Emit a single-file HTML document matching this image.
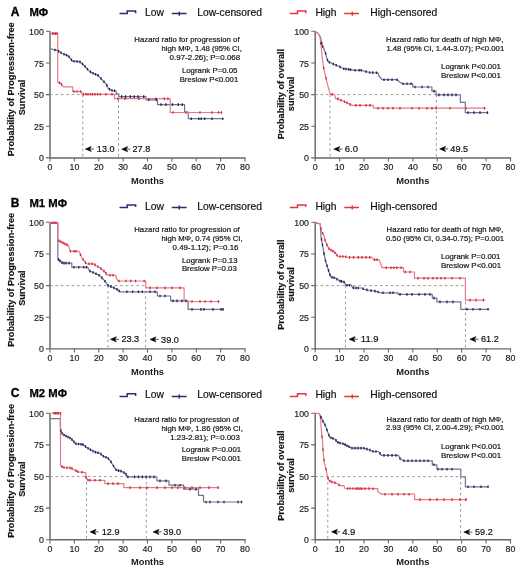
<!DOCTYPE html><html><head><meta charset="utf-8"><style>html,body{margin:0;padding:0;background:#fff;overflow:hidden;width:520px;height:571px;}svg{display:block;filter:blur(0.35px);}text{font-family:"Liberation Sans",sans-serif;}</style></head><body>
<svg width="520" height="571" viewBox="0 0 520 571">
<rect width="520" height="571" fill="#fff"/>
<text x="10.8" y="15.9" font-size="12" font-weight="bold" text-anchor="start" fill="#000" stroke="#000" stroke-width="0.35">A</text>
<text x="29.4" y="15.9" font-size="11.3" font-weight="bold" text-anchor="start" fill="#000" stroke="#000" stroke-width="0.25">MΦ</text>
<path d="M119.5 13.6 H127.2 V11.0 H135.6 V13.2" stroke="#2c2e70" stroke-width="1.5" fill="none"/>
<text x="145.0" y="15.6" font-size="10.3" font-weight="normal" text-anchor="start" fill="#111" stroke="#111" stroke-width="0.2">Low</text>
<path d="M171.8 13.6 H186.6 M179.3 11.7 V15.7" stroke="#2c2e70" stroke-width="1.5" fill="none"/>
<text x="197.2" y="15.6" font-size="10.3" font-weight="normal" text-anchor="start" fill="#111" stroke="#111" stroke-width="0.2">Low-censored</text>
<path d="M289.8 13.6 H297.5 V11.0 H305.8 V13.2" stroke="#e8343c" stroke-width="1.5" fill="none"/>
<text x="315.4" y="15.6" font-size="10.3" font-weight="normal" text-anchor="start" fill="#111" stroke="#111" stroke-width="0.2">High</text>
<path d="M344.2 13.6 H359 M352.3 11.7 V15.7" stroke="#e8343c" stroke-width="1.5" fill="none"/>
<text x="370.3" y="15.6" font-size="10.3" font-weight="normal" text-anchor="start" fill="#111" stroke="#111" stroke-width="0.2">High-censored</text>
<text x="10.8" y="206.9" font-size="12" font-weight="bold" text-anchor="start" fill="#000" stroke="#000" stroke-width="0.35">B</text>
<text x="29.4" y="206.9" font-size="11.3" font-weight="bold" text-anchor="start" fill="#000" stroke="#000" stroke-width="0.25">M1 MΦ</text>
<path d="M119.5 207.5 H127.2 V204.9 H135.6 V207.1" stroke="#2c2e70" stroke-width="1.5" fill="none"/>
<text x="145.0" y="209.5" font-size="10.3" font-weight="normal" text-anchor="start" fill="#111" stroke="#111" stroke-width="0.2">Low</text>
<path d="M171.8 207.5 H186.6 M179.3 205.6 V209.6" stroke="#2c2e70" stroke-width="1.5" fill="none"/>
<text x="197.2" y="209.5" font-size="10.3" font-weight="normal" text-anchor="start" fill="#111" stroke="#111" stroke-width="0.2">Low-censored</text>
<path d="M289.8 207.5 H297.5 V204.9 H305.8 V207.1" stroke="#e8343c" stroke-width="1.5" fill="none"/>
<text x="315.4" y="209.5" font-size="10.3" font-weight="normal" text-anchor="start" fill="#111" stroke="#111" stroke-width="0.2">High</text>
<path d="M344.2 207.5 H359 M352.3 205.6 V209.6" stroke="#e8343c" stroke-width="1.5" fill="none"/>
<text x="370.3" y="209.5" font-size="10.3" font-weight="normal" text-anchor="start" fill="#111" stroke="#111" stroke-width="0.2">High-censored</text>
<text x="10.8" y="396.5" font-size="12" font-weight="bold" text-anchor="start" fill="#000" stroke="#000" stroke-width="0.35">C</text>
<text x="29.4" y="396.5" font-size="11.3" font-weight="bold" text-anchor="start" fill="#000" stroke="#000" stroke-width="0.25">M2 MΦ</text>
<path d="M119.5 396.4 H127.2 V393.8 H135.6 V396.0" stroke="#2c2e70" stroke-width="1.5" fill="none"/>
<text x="145.0" y="398.4" font-size="10.3" font-weight="normal" text-anchor="start" fill="#111" stroke="#111" stroke-width="0.2">Low</text>
<path d="M171.8 396.4 H186.6 M179.3 394.5 V398.5" stroke="#2c2e70" stroke-width="1.5" fill="none"/>
<text x="197.2" y="398.4" font-size="10.3" font-weight="normal" text-anchor="start" fill="#111" stroke="#111" stroke-width="0.2">Low-censored</text>
<path d="M289.8 396.4 H297.5 V393.8 H305.8 V396.0" stroke="#e8343c" stroke-width="1.5" fill="none"/>
<text x="315.4" y="398.4" font-size="10.3" font-weight="normal" text-anchor="start" fill="#111" stroke="#111" stroke-width="0.2">High</text>
<path d="M344.2 396.4 H359 M352.3 394.5 V398.5" stroke="#e8343c" stroke-width="1.5" fill="none"/>
<text x="370.3" y="398.4" font-size="10.3" font-weight="normal" text-anchor="start" fill="#111" stroke="#111" stroke-width="0.2">High-censored</text>
<path d="M50.00 31.30 V157.90 M49.40 157.90 H245.60" stroke="#686868" stroke-width="1.45" fill="none"/>
<path d="M46.00 157.90 H50.00 M46.00 126.25 H50.00 M46.00 94.60 H50.00 M46.00 62.95 H50.00 M46.00 31.30 H50.00 M50.00 157.90 V161.50 M74.38 157.90 V161.50 M98.75 157.90 V161.50 M123.12 157.90 V161.50 M147.50 157.90 V161.50 M171.88 157.90 V161.50 M196.25 157.90 V161.50 M220.62 157.90 V161.50 M245.00 157.90 V161.50 " stroke="#686868" stroke-width="1.1" fill="none"/>
<text x="43.8" y="161.4" font-size="9.8" font-weight="normal" text-anchor="end" fill="#1e1e1e" stroke="#1e1e1e" stroke-width="0.2" textLength="4.9" lengthAdjust="spacingAndGlyphs">0</text>
<text x="43.8" y="129.8" font-size="9.8" font-weight="normal" text-anchor="end" fill="#1e1e1e" stroke="#1e1e1e" stroke-width="0.2" textLength="9.8" lengthAdjust="spacingAndGlyphs">25</text>
<text x="43.8" y="98.1" font-size="9.8" font-weight="normal" text-anchor="end" fill="#1e1e1e" stroke="#1e1e1e" stroke-width="0.2" textLength="9.8" lengthAdjust="spacingAndGlyphs">50</text>
<text x="43.8" y="66.5" font-size="9.8" font-weight="normal" text-anchor="end" fill="#1e1e1e" stroke="#1e1e1e" stroke-width="0.2" textLength="9.8" lengthAdjust="spacingAndGlyphs">75</text>
<text x="43.8" y="34.8" font-size="9.8" font-weight="normal" text-anchor="end" fill="#1e1e1e" stroke="#1e1e1e" stroke-width="0.2" textLength="14.7" lengthAdjust="spacingAndGlyphs">100</text>
<text x="50.0" y="169.8" font-size="9.8" font-weight="normal" text-anchor="middle" fill="#1e1e1e" stroke="#1e1e1e" stroke-width="0.2" textLength="4.9" lengthAdjust="spacingAndGlyphs">0</text>
<text x="74.4" y="169.8" font-size="9.8" font-weight="normal" text-anchor="middle" fill="#1e1e1e" stroke="#1e1e1e" stroke-width="0.2" textLength="9.8" lengthAdjust="spacingAndGlyphs">10</text>
<text x="98.8" y="169.8" font-size="9.8" font-weight="normal" text-anchor="middle" fill="#1e1e1e" stroke="#1e1e1e" stroke-width="0.2" textLength="9.8" lengthAdjust="spacingAndGlyphs">20</text>
<text x="123.1" y="169.8" font-size="9.8" font-weight="normal" text-anchor="middle" fill="#1e1e1e" stroke="#1e1e1e" stroke-width="0.2" textLength="9.8" lengthAdjust="spacingAndGlyphs">30</text>
<text x="147.5" y="169.8" font-size="9.8" font-weight="normal" text-anchor="middle" fill="#1e1e1e" stroke="#1e1e1e" stroke-width="0.2" textLength="9.8" lengthAdjust="spacingAndGlyphs">40</text>
<text x="171.9" y="169.8" font-size="9.8" font-weight="normal" text-anchor="middle" fill="#1e1e1e" stroke="#1e1e1e" stroke-width="0.2" textLength="9.8" lengthAdjust="spacingAndGlyphs">50</text>
<text x="196.2" y="169.8" font-size="9.8" font-weight="normal" text-anchor="middle" fill="#1e1e1e" stroke="#1e1e1e" stroke-width="0.2" textLength="9.8" lengthAdjust="spacingAndGlyphs">60</text>
<text x="220.6" y="169.8" font-size="9.8" font-weight="normal" text-anchor="middle" fill="#1e1e1e" stroke="#1e1e1e" stroke-width="0.2" textLength="9.8" lengthAdjust="spacingAndGlyphs">70</text>
<text x="245.0" y="169.8" font-size="9.8" font-weight="normal" text-anchor="middle" fill="#1e1e1e" stroke="#1e1e1e" stroke-width="0.2" textLength="9.8" lengthAdjust="spacingAndGlyphs">80</text>
<text x="147.5" y="183.5" font-size="9.3" font-weight="bold" text-anchor="middle" fill="#1a1a1a">Months</text>
<text transform="translate(13.6,89.3) rotate(-90)" x="0" y="0" font-size="9.15" font-weight="bold" text-anchor="middle" fill="#111" stroke="#111" stroke-width="0.15">Probability of Progression-free</text>
<text transform="translate(24.6,97.5) rotate(-90)" x="0" y="0" font-size="9.15" font-weight="bold" text-anchor="middle" fill="#111" stroke="#111" stroke-width="0.15">Survival</text>
<path d="M315.20 31.30 V157.90 M314.60 157.90 H511.10" stroke="#686868" stroke-width="1.45" fill="none"/>
<path d="M311.20 157.90 H315.20 M311.20 126.25 H315.20 M311.20 94.60 H315.20 M311.20 62.95 H315.20 M311.20 31.30 H315.20 M315.20 157.90 V161.50 M339.61 157.90 V161.50 M364.03 157.90 V161.50 M388.44 157.90 V161.50 M412.85 157.90 V161.50 M437.26 157.90 V161.50 M461.68 157.90 V161.50 M486.09 157.90 V161.50 M510.50 157.90 V161.50 " stroke="#686868" stroke-width="1.1" fill="none"/>
<text x="309.0" y="161.4" font-size="9.8" font-weight="normal" text-anchor="end" fill="#1e1e1e" stroke="#1e1e1e" stroke-width="0.2" textLength="4.9" lengthAdjust="spacingAndGlyphs">0</text>
<text x="309.0" y="129.8" font-size="9.8" font-weight="normal" text-anchor="end" fill="#1e1e1e" stroke="#1e1e1e" stroke-width="0.2" textLength="9.8" lengthAdjust="spacingAndGlyphs">25</text>
<text x="309.0" y="98.1" font-size="9.8" font-weight="normal" text-anchor="end" fill="#1e1e1e" stroke="#1e1e1e" stroke-width="0.2" textLength="9.8" lengthAdjust="spacingAndGlyphs">50</text>
<text x="309.0" y="66.5" font-size="9.8" font-weight="normal" text-anchor="end" fill="#1e1e1e" stroke="#1e1e1e" stroke-width="0.2" textLength="9.8" lengthAdjust="spacingAndGlyphs">75</text>
<text x="309.0" y="34.8" font-size="9.8" font-weight="normal" text-anchor="end" fill="#1e1e1e" stroke="#1e1e1e" stroke-width="0.2" textLength="14.7" lengthAdjust="spacingAndGlyphs">100</text>
<text x="315.2" y="169.8" font-size="9.8" font-weight="normal" text-anchor="middle" fill="#1e1e1e" stroke="#1e1e1e" stroke-width="0.2" textLength="4.9" lengthAdjust="spacingAndGlyphs">0</text>
<text x="339.6" y="169.8" font-size="9.8" font-weight="normal" text-anchor="middle" fill="#1e1e1e" stroke="#1e1e1e" stroke-width="0.2" textLength="9.8" lengthAdjust="spacingAndGlyphs">10</text>
<text x="364.0" y="169.8" font-size="9.8" font-weight="normal" text-anchor="middle" fill="#1e1e1e" stroke="#1e1e1e" stroke-width="0.2" textLength="9.8" lengthAdjust="spacingAndGlyphs">20</text>
<text x="388.4" y="169.8" font-size="9.8" font-weight="normal" text-anchor="middle" fill="#1e1e1e" stroke="#1e1e1e" stroke-width="0.2" textLength="9.8" lengthAdjust="spacingAndGlyphs">30</text>
<text x="412.9" y="169.8" font-size="9.8" font-weight="normal" text-anchor="middle" fill="#1e1e1e" stroke="#1e1e1e" stroke-width="0.2" textLength="9.8" lengthAdjust="spacingAndGlyphs">40</text>
<text x="437.3" y="169.8" font-size="9.8" font-weight="normal" text-anchor="middle" fill="#1e1e1e" stroke="#1e1e1e" stroke-width="0.2" textLength="9.8" lengthAdjust="spacingAndGlyphs">50</text>
<text x="461.7" y="169.8" font-size="9.8" font-weight="normal" text-anchor="middle" fill="#1e1e1e" stroke="#1e1e1e" stroke-width="0.2" textLength="9.8" lengthAdjust="spacingAndGlyphs">60</text>
<text x="486.1" y="169.8" font-size="9.8" font-weight="normal" text-anchor="middle" fill="#1e1e1e" stroke="#1e1e1e" stroke-width="0.2" textLength="9.8" lengthAdjust="spacingAndGlyphs">70</text>
<text x="510.5" y="169.8" font-size="9.8" font-weight="normal" text-anchor="middle" fill="#1e1e1e" stroke="#1e1e1e" stroke-width="0.2" textLength="9.8" lengthAdjust="spacingAndGlyphs">80</text>
<text x="412.9" y="183.5" font-size="9.3" font-weight="bold" text-anchor="middle" fill="#1a1a1a">Months</text>
<text transform="translate(283.6,94.1) rotate(-90)" x="0" y="0" font-size="9.15" font-weight="bold" text-anchor="middle" fill="#111" stroke="#111" stroke-width="0.15">Probability of overall</text>
<text transform="translate(294.3,93.9) rotate(-90)" x="0" y="0" font-size="9.15" font-weight="bold" text-anchor="middle" fill="#111" stroke="#111" stroke-width="0.15">survival</text>
<path d="M50.00 222.30 V348.85 M49.40 348.85 H245.60" stroke="#686868" stroke-width="1.45" fill="none"/>
<path d="M46.00 348.85 H50.00 M46.00 317.21 H50.00 M46.00 285.58 H50.00 M46.00 253.94 H50.00 M46.00 222.30 H50.00 M50.00 348.85 V352.45 M74.38 348.85 V352.45 M98.75 348.85 V352.45 M123.12 348.85 V352.45 M147.50 348.85 V352.45 M171.88 348.85 V352.45 M196.25 348.85 V352.45 M220.62 348.85 V352.45 M245.00 348.85 V352.45 " stroke="#686868" stroke-width="1.1" fill="none"/>
<text x="43.8" y="352.4" font-size="9.8" font-weight="normal" text-anchor="end" fill="#1e1e1e" stroke="#1e1e1e" stroke-width="0.2" textLength="4.9" lengthAdjust="spacingAndGlyphs">0</text>
<text x="43.8" y="320.7" font-size="9.8" font-weight="normal" text-anchor="end" fill="#1e1e1e" stroke="#1e1e1e" stroke-width="0.2" textLength="9.8" lengthAdjust="spacingAndGlyphs">25</text>
<text x="43.8" y="289.1" font-size="9.8" font-weight="normal" text-anchor="end" fill="#1e1e1e" stroke="#1e1e1e" stroke-width="0.2" textLength="9.8" lengthAdjust="spacingAndGlyphs">50</text>
<text x="43.8" y="257.4" font-size="9.8" font-weight="normal" text-anchor="end" fill="#1e1e1e" stroke="#1e1e1e" stroke-width="0.2" textLength="9.8" lengthAdjust="spacingAndGlyphs">75</text>
<text x="43.8" y="225.8" font-size="9.8" font-weight="normal" text-anchor="end" fill="#1e1e1e" stroke="#1e1e1e" stroke-width="0.2" textLength="14.7" lengthAdjust="spacingAndGlyphs">100</text>
<text x="50.0" y="360.8" font-size="9.8" font-weight="normal" text-anchor="middle" fill="#1e1e1e" stroke="#1e1e1e" stroke-width="0.2" textLength="4.9" lengthAdjust="spacingAndGlyphs">0</text>
<text x="74.4" y="360.8" font-size="9.8" font-weight="normal" text-anchor="middle" fill="#1e1e1e" stroke="#1e1e1e" stroke-width="0.2" textLength="9.8" lengthAdjust="spacingAndGlyphs">10</text>
<text x="98.8" y="360.8" font-size="9.8" font-weight="normal" text-anchor="middle" fill="#1e1e1e" stroke="#1e1e1e" stroke-width="0.2" textLength="9.8" lengthAdjust="spacingAndGlyphs">20</text>
<text x="123.1" y="360.8" font-size="9.8" font-weight="normal" text-anchor="middle" fill="#1e1e1e" stroke="#1e1e1e" stroke-width="0.2" textLength="9.8" lengthAdjust="spacingAndGlyphs">30</text>
<text x="147.5" y="360.8" font-size="9.8" font-weight="normal" text-anchor="middle" fill="#1e1e1e" stroke="#1e1e1e" stroke-width="0.2" textLength="9.8" lengthAdjust="spacingAndGlyphs">40</text>
<text x="171.9" y="360.8" font-size="9.8" font-weight="normal" text-anchor="middle" fill="#1e1e1e" stroke="#1e1e1e" stroke-width="0.2" textLength="9.8" lengthAdjust="spacingAndGlyphs">50</text>
<text x="196.2" y="360.8" font-size="9.8" font-weight="normal" text-anchor="middle" fill="#1e1e1e" stroke="#1e1e1e" stroke-width="0.2" textLength="9.8" lengthAdjust="spacingAndGlyphs">60</text>
<text x="220.6" y="360.8" font-size="9.8" font-weight="normal" text-anchor="middle" fill="#1e1e1e" stroke="#1e1e1e" stroke-width="0.2" textLength="9.8" lengthAdjust="spacingAndGlyphs">70</text>
<text x="245.0" y="360.8" font-size="9.8" font-weight="normal" text-anchor="middle" fill="#1e1e1e" stroke="#1e1e1e" stroke-width="0.2" textLength="9.8" lengthAdjust="spacingAndGlyphs">80</text>
<text x="147.5" y="374.5" font-size="9.3" font-weight="bold" text-anchor="middle" fill="#1a1a1a">Months</text>
<text transform="translate(13.6,279.9) rotate(-90)" x="0" y="0" font-size="9.15" font-weight="bold" text-anchor="middle" fill="#111" stroke="#111" stroke-width="0.15">Probability of Progression-free</text>
<text transform="translate(24.6,288.1) rotate(-90)" x="0" y="0" font-size="9.15" font-weight="bold" text-anchor="middle" fill="#111" stroke="#111" stroke-width="0.15">Survival</text>
<path d="M315.20 222.30 V348.85 M314.60 348.85 H511.10" stroke="#686868" stroke-width="1.45" fill="none"/>
<path d="M311.20 348.85 H315.20 M311.20 317.21 H315.20 M311.20 285.58 H315.20 M311.20 253.94 H315.20 M311.20 222.30 H315.20 M315.20 348.85 V352.45 M339.61 348.85 V352.45 M364.03 348.85 V352.45 M388.44 348.85 V352.45 M412.85 348.85 V352.45 M437.26 348.85 V352.45 M461.68 348.85 V352.45 M486.09 348.85 V352.45 M510.50 348.85 V352.45 " stroke="#686868" stroke-width="1.1" fill="none"/>
<text x="309.0" y="352.4" font-size="9.8" font-weight="normal" text-anchor="end" fill="#1e1e1e" stroke="#1e1e1e" stroke-width="0.2" textLength="4.9" lengthAdjust="spacingAndGlyphs">0</text>
<text x="309.0" y="320.7" font-size="9.8" font-weight="normal" text-anchor="end" fill="#1e1e1e" stroke="#1e1e1e" stroke-width="0.2" textLength="9.8" lengthAdjust="spacingAndGlyphs">25</text>
<text x="309.0" y="289.1" font-size="9.8" font-weight="normal" text-anchor="end" fill="#1e1e1e" stroke="#1e1e1e" stroke-width="0.2" textLength="9.8" lengthAdjust="spacingAndGlyphs">50</text>
<text x="309.0" y="257.4" font-size="9.8" font-weight="normal" text-anchor="end" fill="#1e1e1e" stroke="#1e1e1e" stroke-width="0.2" textLength="9.8" lengthAdjust="spacingAndGlyphs">75</text>
<text x="309.0" y="225.8" font-size="9.8" font-weight="normal" text-anchor="end" fill="#1e1e1e" stroke="#1e1e1e" stroke-width="0.2" textLength="14.7" lengthAdjust="spacingAndGlyphs">100</text>
<text x="315.2" y="360.8" font-size="9.8" font-weight="normal" text-anchor="middle" fill="#1e1e1e" stroke="#1e1e1e" stroke-width="0.2" textLength="4.9" lengthAdjust="spacingAndGlyphs">0</text>
<text x="339.6" y="360.8" font-size="9.8" font-weight="normal" text-anchor="middle" fill="#1e1e1e" stroke="#1e1e1e" stroke-width="0.2" textLength="9.8" lengthAdjust="spacingAndGlyphs">10</text>
<text x="364.0" y="360.8" font-size="9.8" font-weight="normal" text-anchor="middle" fill="#1e1e1e" stroke="#1e1e1e" stroke-width="0.2" textLength="9.8" lengthAdjust="spacingAndGlyphs">20</text>
<text x="388.4" y="360.8" font-size="9.8" font-weight="normal" text-anchor="middle" fill="#1e1e1e" stroke="#1e1e1e" stroke-width="0.2" textLength="9.8" lengthAdjust="spacingAndGlyphs">30</text>
<text x="412.9" y="360.8" font-size="9.8" font-weight="normal" text-anchor="middle" fill="#1e1e1e" stroke="#1e1e1e" stroke-width="0.2" textLength="9.8" lengthAdjust="spacingAndGlyphs">40</text>
<text x="437.3" y="360.8" font-size="9.8" font-weight="normal" text-anchor="middle" fill="#1e1e1e" stroke="#1e1e1e" stroke-width="0.2" textLength="9.8" lengthAdjust="spacingAndGlyphs">50</text>
<text x="461.7" y="360.8" font-size="9.8" font-weight="normal" text-anchor="middle" fill="#1e1e1e" stroke="#1e1e1e" stroke-width="0.2" textLength="9.8" lengthAdjust="spacingAndGlyphs">60</text>
<text x="486.1" y="360.8" font-size="9.8" font-weight="normal" text-anchor="middle" fill="#1e1e1e" stroke="#1e1e1e" stroke-width="0.2" textLength="9.8" lengthAdjust="spacingAndGlyphs">70</text>
<text x="510.5" y="360.8" font-size="9.8" font-weight="normal" text-anchor="middle" fill="#1e1e1e" stroke="#1e1e1e" stroke-width="0.2" textLength="9.8" lengthAdjust="spacingAndGlyphs">80</text>
<text x="412.9" y="374.5" font-size="9.3" font-weight="bold" text-anchor="middle" fill="#1a1a1a">Months</text>
<text transform="translate(283.6,284.7) rotate(-90)" x="0" y="0" font-size="9.15" font-weight="bold" text-anchor="middle" fill="#111" stroke="#111" stroke-width="0.15">Probability of overall</text>
<text transform="translate(294.3,284.5) rotate(-90)" x="0" y="0" font-size="9.15" font-weight="bold" text-anchor="middle" fill="#111" stroke="#111" stroke-width="0.15">survival</text>
<path d="M50.00 413.25 V539.80 M49.40 539.80 H245.60" stroke="#686868" stroke-width="1.45" fill="none"/>
<path d="M46.00 539.80 H50.00 M46.00 508.16 H50.00 M46.00 476.52 H50.00 M46.00 444.89 H50.00 M46.00 413.25 H50.00 M50.00 539.80 V543.40 M74.38 539.80 V543.40 M98.75 539.80 V543.40 M123.12 539.80 V543.40 M147.50 539.80 V543.40 M171.88 539.80 V543.40 M196.25 539.80 V543.40 M220.62 539.80 V543.40 M245.00 539.80 V543.40 " stroke="#686868" stroke-width="1.1" fill="none"/>
<text x="43.8" y="543.3" font-size="9.8" font-weight="normal" text-anchor="end" fill="#1e1e1e" stroke="#1e1e1e" stroke-width="0.2" textLength="4.9" lengthAdjust="spacingAndGlyphs">0</text>
<text x="43.8" y="511.7" font-size="9.8" font-weight="normal" text-anchor="end" fill="#1e1e1e" stroke="#1e1e1e" stroke-width="0.2" textLength="9.8" lengthAdjust="spacingAndGlyphs">25</text>
<text x="43.8" y="480.0" font-size="9.8" font-weight="normal" text-anchor="end" fill="#1e1e1e" stroke="#1e1e1e" stroke-width="0.2" textLength="9.8" lengthAdjust="spacingAndGlyphs">50</text>
<text x="43.8" y="448.4" font-size="9.8" font-weight="normal" text-anchor="end" fill="#1e1e1e" stroke="#1e1e1e" stroke-width="0.2" textLength="9.8" lengthAdjust="spacingAndGlyphs">75</text>
<text x="43.8" y="416.8" font-size="9.8" font-weight="normal" text-anchor="end" fill="#1e1e1e" stroke="#1e1e1e" stroke-width="0.2" textLength="14.7" lengthAdjust="spacingAndGlyphs">100</text>
<text x="50.0" y="551.7" font-size="9.8" font-weight="normal" text-anchor="middle" fill="#1e1e1e" stroke="#1e1e1e" stroke-width="0.2" textLength="4.9" lengthAdjust="spacingAndGlyphs">0</text>
<text x="74.4" y="551.7" font-size="9.8" font-weight="normal" text-anchor="middle" fill="#1e1e1e" stroke="#1e1e1e" stroke-width="0.2" textLength="9.8" lengthAdjust="spacingAndGlyphs">10</text>
<text x="98.8" y="551.7" font-size="9.8" font-weight="normal" text-anchor="middle" fill="#1e1e1e" stroke="#1e1e1e" stroke-width="0.2" textLength="9.8" lengthAdjust="spacingAndGlyphs">20</text>
<text x="123.1" y="551.7" font-size="9.8" font-weight="normal" text-anchor="middle" fill="#1e1e1e" stroke="#1e1e1e" stroke-width="0.2" textLength="9.8" lengthAdjust="spacingAndGlyphs">30</text>
<text x="147.5" y="551.7" font-size="9.8" font-weight="normal" text-anchor="middle" fill="#1e1e1e" stroke="#1e1e1e" stroke-width="0.2" textLength="9.8" lengthAdjust="spacingAndGlyphs">40</text>
<text x="171.9" y="551.7" font-size="9.8" font-weight="normal" text-anchor="middle" fill="#1e1e1e" stroke="#1e1e1e" stroke-width="0.2" textLength="9.8" lengthAdjust="spacingAndGlyphs">50</text>
<text x="196.2" y="551.7" font-size="9.8" font-weight="normal" text-anchor="middle" fill="#1e1e1e" stroke="#1e1e1e" stroke-width="0.2" textLength="9.8" lengthAdjust="spacingAndGlyphs">60</text>
<text x="220.6" y="551.7" font-size="9.8" font-weight="normal" text-anchor="middle" fill="#1e1e1e" stroke="#1e1e1e" stroke-width="0.2" textLength="9.8" lengthAdjust="spacingAndGlyphs">70</text>
<text x="245.0" y="551.7" font-size="9.8" font-weight="normal" text-anchor="middle" fill="#1e1e1e" stroke="#1e1e1e" stroke-width="0.2" textLength="9.8" lengthAdjust="spacingAndGlyphs">80</text>
<text x="147.5" y="565.4" font-size="9.3" font-weight="bold" text-anchor="middle" fill="#1a1a1a">Months</text>
<text transform="translate(13.6,470.9) rotate(-90)" x="0" y="0" font-size="9.15" font-weight="bold" text-anchor="middle" fill="#111" stroke="#111" stroke-width="0.15">Probability of Progression-free</text>
<text transform="translate(24.6,479.1) rotate(-90)" x="0" y="0" font-size="9.15" font-weight="bold" text-anchor="middle" fill="#111" stroke="#111" stroke-width="0.15">Survival</text>
<path d="M315.20 413.25 V539.80 M314.60 539.80 H511.10" stroke="#686868" stroke-width="1.45" fill="none"/>
<path d="M311.20 539.80 H315.20 M311.20 508.16 H315.20 M311.20 476.52 H315.20 M311.20 444.89 H315.20 M311.20 413.25 H315.20 M315.20 539.80 V543.40 M339.61 539.80 V543.40 M364.03 539.80 V543.40 M388.44 539.80 V543.40 M412.85 539.80 V543.40 M437.26 539.80 V543.40 M461.68 539.80 V543.40 M486.09 539.80 V543.40 M510.50 539.80 V543.40 " stroke="#686868" stroke-width="1.1" fill="none"/>
<text x="309.0" y="543.3" font-size="9.8" font-weight="normal" text-anchor="end" fill="#1e1e1e" stroke="#1e1e1e" stroke-width="0.2" textLength="4.9" lengthAdjust="spacingAndGlyphs">0</text>
<text x="309.0" y="511.7" font-size="9.8" font-weight="normal" text-anchor="end" fill="#1e1e1e" stroke="#1e1e1e" stroke-width="0.2" textLength="9.8" lengthAdjust="spacingAndGlyphs">25</text>
<text x="309.0" y="480.0" font-size="9.8" font-weight="normal" text-anchor="end" fill="#1e1e1e" stroke="#1e1e1e" stroke-width="0.2" textLength="9.8" lengthAdjust="spacingAndGlyphs">50</text>
<text x="309.0" y="448.4" font-size="9.8" font-weight="normal" text-anchor="end" fill="#1e1e1e" stroke="#1e1e1e" stroke-width="0.2" textLength="9.8" lengthAdjust="spacingAndGlyphs">75</text>
<text x="309.0" y="416.8" font-size="9.8" font-weight="normal" text-anchor="end" fill="#1e1e1e" stroke="#1e1e1e" stroke-width="0.2" textLength="14.7" lengthAdjust="spacingAndGlyphs">100</text>
<text x="315.2" y="551.7" font-size="9.8" font-weight="normal" text-anchor="middle" fill="#1e1e1e" stroke="#1e1e1e" stroke-width="0.2" textLength="4.9" lengthAdjust="spacingAndGlyphs">0</text>
<text x="339.6" y="551.7" font-size="9.8" font-weight="normal" text-anchor="middle" fill="#1e1e1e" stroke="#1e1e1e" stroke-width="0.2" textLength="9.8" lengthAdjust="spacingAndGlyphs">10</text>
<text x="364.0" y="551.7" font-size="9.8" font-weight="normal" text-anchor="middle" fill="#1e1e1e" stroke="#1e1e1e" stroke-width="0.2" textLength="9.8" lengthAdjust="spacingAndGlyphs">20</text>
<text x="388.4" y="551.7" font-size="9.8" font-weight="normal" text-anchor="middle" fill="#1e1e1e" stroke="#1e1e1e" stroke-width="0.2" textLength="9.8" lengthAdjust="spacingAndGlyphs">30</text>
<text x="412.9" y="551.7" font-size="9.8" font-weight="normal" text-anchor="middle" fill="#1e1e1e" stroke="#1e1e1e" stroke-width="0.2" textLength="9.8" lengthAdjust="spacingAndGlyphs">40</text>
<text x="437.3" y="551.7" font-size="9.8" font-weight="normal" text-anchor="middle" fill="#1e1e1e" stroke="#1e1e1e" stroke-width="0.2" textLength="9.8" lengthAdjust="spacingAndGlyphs">50</text>
<text x="461.7" y="551.7" font-size="9.8" font-weight="normal" text-anchor="middle" fill="#1e1e1e" stroke="#1e1e1e" stroke-width="0.2" textLength="9.8" lengthAdjust="spacingAndGlyphs">60</text>
<text x="486.1" y="551.7" font-size="9.8" font-weight="normal" text-anchor="middle" fill="#1e1e1e" stroke="#1e1e1e" stroke-width="0.2" textLength="9.8" lengthAdjust="spacingAndGlyphs">70</text>
<text x="510.5" y="551.7" font-size="9.8" font-weight="normal" text-anchor="middle" fill="#1e1e1e" stroke="#1e1e1e" stroke-width="0.2" textLength="9.8" lengthAdjust="spacingAndGlyphs">80</text>
<text x="412.9" y="565.4" font-size="9.3" font-weight="bold" text-anchor="middle" fill="#1a1a1a">Months</text>
<text transform="translate(283.6,475.7) rotate(-90)" x="0" y="0" font-size="9.15" font-weight="bold" text-anchor="middle" fill="#111" stroke="#111" stroke-width="0.15">Probability of overall</text>
<text transform="translate(294.3,475.5) rotate(-90)" x="0" y="0" font-size="9.15" font-weight="bold" text-anchor="middle" fill="#111" stroke="#111" stroke-width="0.15">survival</text>
<path d="M50.0 94.60 H118.5 M82.8 94.60 V157.9 M118.5 94.60 V157.9" stroke="#9a9a9a" stroke-width="1.0" stroke-dasharray="2.6 2.8" fill="none"/>
<path d="M315.2 94.60 H436.3 M330.0 94.60 V157.9 M436.3 94.60 V157.9" stroke="#9a9a9a" stroke-width="1.0" stroke-dasharray="2.6 2.8" fill="none"/>
<path d="M50.0 285.60 H145.6 M108.0 285.60 V348.9 M145.6 285.60 V348.9" stroke="#9a9a9a" stroke-width="1.0" stroke-dasharray="2.6 2.8" fill="none"/>
<path d="M315.2 285.60 H465.5 M345.5 285.60 V348.9 M465.5 285.60 V348.9" stroke="#9a9a9a" stroke-width="1.0" stroke-dasharray="2.6 2.8" fill="none"/>
<path d="M50.0 476.60 H146.3 M86.5 476.60 V539.8 M146.3 476.60 V539.8" stroke="#9a9a9a" stroke-width="1.0" stroke-dasharray="2.6 2.8" fill="none"/>
<path d="M315.2 476.60 H460.6 M327.8 476.60 V539.8 M460.6 476.60 V539.8" stroke="#9a9a9a" stroke-width="1.0" stroke-dasharray="2.6 2.8" fill="none"/>
<path d="M50.6 48.9 L57.6 50.6 L62.4 53.5 L68.2 55.9 L70.6 58.8 L72.5 61.2 L79.7 61.6 L83.6 65.0 L89.3 71.2 L93.8 73.7 L97.7 75.1 L100.6 78.0 L103.5 81.3 L106.3 84.2 L108.3 88.6 L112.1 90.5 L116.2 91.0 L116.2 93.8 L118.8 93.8 L118.8 96.6 L146.0 96.6 L146.0 99.8 L157.5 99.8 L157.5 104.6 L184.6 104.6 L184.6 112.1 L188.3 112.1 L188.3 118.7 L223.1 118.7" stroke="#70729a" stroke-width="1.2" fill="none" stroke-linejoin="round"/>
<path d="M50.6 33.5 L57.7 33.5 L57.7 82.3 L60.4 83.0 L62.3 85.5 L63.5 86.9 L72.7 86.9 L72.7 91.5 L81.9 91.5 L81.9 94.3 L114.5 94.3 L114.5 98.7 L170.2 98.7 L170.2 112.5 L221.9 112.5" stroke="#e47c86" stroke-width="1.2" fill="none" stroke-linejoin="round"/>
<path d="M315.5 31.7 L318.0 33.5 L320.0 36.0 L321.0 39.5 L322.0 45.0 L323.5 48.0 L325.5 53.0 L326.7 58.2 L328.3 61.8 L333.0 63.9 L338.3 66.0 L343.5 68.7 L350.9 69.7 L354.0 70.3 L361.2 70.3 L365.8 71.5 L369.6 72.5 L378.0 72.8 L379.0 76.0 L382.0 79.7 L397.3 79.7 L399.6 82.0 L402.7 83.8 L412.7 83.8 L412.7 87.0 L431.9 87.0 L431.9 91.1 L436.1 91.1 L436.1 94.9 L460.4 94.9 L460.4 102.3 L465.3 102.3 L465.3 112.6 L488.1 112.6" stroke="#70729a" stroke-width="1.2" fill="none" stroke-linejoin="round"/>
<path d="M315.5 31.7 L318.0 33.5 L320.0 37.0 L321.0 45.0 L322.0 55.0 L323.6 67.6 L327.2 83.4 L330.4 94.4 L334.6 94.4 L335.5 98.6 L337.2 98.6 L343.5 101.2 L348.8 103.8 L351.9 105.4 L373.5 105.4 L373.5 108.2 L485.8 108.2" stroke="#e47c86" stroke-width="1.2" fill="none" stroke-linejoin="round"/>
<path d="M50.6 222.8 L57.8 222.8 L57.8 259.0 L61.7 262.4 L63.0 263.1 L71.8 263.1 L71.8 267.2 L87.7 267.2 L89.6 271.0 L95.4 273.5 L100.2 275.9 L105.0 281.2 L108.5 286.0 L110.8 286.5 L114.2 288.0 L118.3 290.0 L120.0 291.8 L157.3 291.8 L157.3 296.0 L170.6 296.0 L170.6 300.9 L188.1 300.9 L188.1 309.4 L223.7 309.4" stroke="#70729a" stroke-width="1.2" fill="none" stroke-linejoin="round"/>
<path d="M50.6 222.8 L57.8 222.8 L57.8 240.3 L62.7 242.7 L68.5 245.6 L70.4 251.3 L79.0 251.3 L81.9 258.0 L84.8 261.9 L86.7 263.8 L93.5 263.8 L96.3 265.8 L101.2 268.7 L105.0 272.0 L107.3 275.2 L115.4 275.2 L117.7 281.0 L145.8 281.0 L145.8 287.9 L184.1 287.9 L184.1 301.5 L219.6 301.5" stroke="#e47c86" stroke-width="1.2" fill="none" stroke-linejoin="round"/>
<path d="M315.5 222.6 L320.2 223.8 L321.1 237.2 L323.0 247.8 L324.0 253.6 L325.5 260.8 L327.8 268.3 L330.7 276.9 L335.3 278.1 L339.9 281.0 L344.5 282.1 L345.7 285.2 L351.5 285.2 L352.6 287.9 L361.8 288.0 L364.2 289.4 L369.9 290.5 L374.2 290.8 L380.4 292.8 L398.1 292.8 L398.1 294.4 L432.3 294.4 L432.3 298.1 L436.9 298.1 L436.9 301.9 L460.8 301.9 L460.8 309.3 L489.2 309.3" stroke="#70729a" stroke-width="1.2" fill="none" stroke-linejoin="round"/>
<path d="M315.5 222.6 L320.2 223.8 L321.6 232.4 L323.5 233.9 L325.0 240.1 L327.4 245.9 L329.3 249.3 L334.1 251.7 L336.5 254.5 L338.0 256.5 L344.7 256.5 L347.6 257.4 L371.9 257.4 L373.5 259.7 L378.8 259.7 L380.4 262.8 L381.9 267.7 L403.5 267.7 L403.5 272.0 L414.5 272.0 L414.5 278.2 L465.4 278.2 L465.4 300.1 L484.6 300.1" stroke="#e47c86" stroke-width="1.2" fill="none" stroke-linejoin="round"/>
<path d="M50.6 418.6 L60.3 418.6 L60.3 427.0 L61.0 432.0 L63.0 434.5 L71.1 438.6 L75.7 443.8 L82.6 444.3 L87.2 447.8 L94.2 451.8 L100.2 453.3 L103.1 456.2 L107.7 457.9 L110.6 461.3 L113.5 466.0 L116.3 470.2 L121.5 471.2 L125.6 473.5 L127.3 476.9 L156.9 476.9 L156.9 480.9 L169.0 480.9 L169.0 485.2 L183.5 485.2 L183.5 489.2 L198.5 489.2 L198.5 495.3 L203.5 495.3 L203.5 502.0 L242.3 502.0" stroke="#70729a" stroke-width="1.2" fill="none" stroke-linejoin="round"/>
<path d="M51.5 413.2 L60.5 413.2 L60.5 465.8 L63.7 467.5 L71.3 468.0 L74.2 469.9 L78.1 471.8 L85.8 472.6 L85.8 477.1 L88.2 480.3 L104.8 480.3 L104.8 483.6 L123.8 483.6 L123.8 487.6 L219.2 487.6" stroke="#e47c86" stroke-width="1.2" fill="none" stroke-linejoin="round"/>
<path d="M315.5 413.3 L319.2 413.5 L322.6 420.5 L325.5 425.8 L327.4 431.1 L329.8 437.3 L335.1 439.3 L337.5 442.3 L343.8 444.0 L347.6 446.0 L351.9 448.1 L363.5 448.1 L369.2 449.8 L373.1 451.5 L378.5 451.5 L381.5 455.4 L398.5 455.4 L400.0 458.5 L403.5 460.8 L432.3 460.8 L432.3 464.8 L436.9 464.8 L436.9 469.2 L460.8 469.2 L460.8 476.8 L465.4 476.8 L465.4 486.8 L488.5 486.8" stroke="#70729a" stroke-width="1.2" fill="none" stroke-linejoin="round"/>
<path d="M315.5 413.3 L319.2 413.5 L320.7 417.6 L321.1 427.2 L322.1 437.8 L322.5 440.0 L323.1 451.5 L324.2 461.9 L326.5 471.2 L327.7 477.5 L328.8 480.4 L332.3 482.1 L336.9 483.3 L339.8 485.6 L343.8 485.6 L345.0 488.5 L377.7 488.7 L377.7 491.5 L381.5 494.2 L414.6 494.2 L414.6 499.6 L466.9 499.6" stroke="#e47c86" stroke-width="1.2" fill="none" stroke-linejoin="round"/>
<path d="M52.5 32.2 V34.8 M54.0 32.2 V34.8 M55.5 32.2 V34.8 M57.0 32.2 V34.8 M59.5 81.5 V84.1 M61.5 83.1 V85.7 M74.0 90.2 V92.8 M77.0 90.2 V92.8 M80.4 90.2 V92.8 M83.4 93.0 V95.6 M86.0 93.0 V95.6 M88.0 93.0 V95.6 M90.5 93.0 V95.6 M92.6 93.0 V95.6 M95.0 93.0 V95.6 M97.5 93.0 V95.6 M100.3 93.0 V95.6 M106.0 93.0 V95.6 M112.0 93.0 V95.6 M118.0 97.4 V100.0 M125.0 97.4 V100.0 M139.0 97.4 V100.0 M155.8 97.4 V100.0 M164.4 97.4 V100.0 M167.9 97.4 V100.0 M173.0 111.2 V113.8 M186.0 111.2 V113.8 M200.0 111.2 V113.8 M212.0 111.2 V113.8 M218.5 111.2 V113.8 M221.5 111.2 V113.8 " stroke="#d2203a" stroke-width="1.25" fill="none"/>
<path d="M55.0 48.7 V51.3 M58.5 49.8 V52.4 M61.0 51.4 V54.0 M64.0 52.9 V55.5 M66.5 53.9 V56.5 M69.0 55.6 V58.1 M71.5 58.6 V61.2 M74.0 60.0 V62.6 M77.0 60.2 V62.8 M80.0 60.6 V63.2 M82.5 62.7 V65.3 M85.0 65.2 V67.8 M87.5 68.0 V70.6 M90.5 70.6 V73.2 M93.0 72.0 V74.6 M95.5 73.0 V75.6 M98.0 74.1 V76.7 M101.0 77.2 V79.8 M104.0 80.5 V83.1 M106.8 84.0 V86.6 M109.5 87.9 V90.5 M112.0 89.2 V91.8 M114.5 89.5 V92.1 M121.7 95.3 V97.9 M125.6 95.3 V97.9 M130.4 95.3 V97.9 M134.2 95.3 V97.9 M138.0 95.3 V97.9 M143.7 95.3 V97.9 M148.8 98.5 V101.1 M156.3 98.5 V101.1 M161.0 103.3 V105.9 M166.0 103.3 V105.9 M172.5 103.3 V105.9 M178.3 103.3 V105.9 M182.3 103.3 V105.9 M191.3 117.4 V120.0 M198.8 117.4 V120.0 M201.2 117.4 V120.0 M204.6 117.4 V120.0 M212.0 117.4 V120.0 M222.8 117.4 V120.0 " stroke="#1f2150" stroke-width="1.25" fill="none"/>
<path d="M320.8 42.1 V44.7 M323.7 66.7 V69.3 M326.0 76.8 V79.4 M332.0 93.1 V95.7 M338.0 97.6 V100.2 M341.0 98.9 V101.5 M344.5 100.4 V103.0 M347.0 101.6 V104.2 M350.0 103.1 V105.7 M356.0 104.1 V106.7 M360.0 104.1 V106.7 M366.0 104.1 V106.7 M370.0 104.1 V106.7 M378.0 106.9 V109.5 M383.0 106.9 V109.5 M388.0 106.9 V109.5 M393.0 106.9 V109.5 M400.0 106.9 V109.5 M412.0 106.9 V109.5 M419.0 106.9 V109.5 M427.0 106.9 V109.5 M432.0 106.9 V109.5 M436.0 106.9 V109.5 M450.0 106.9 V109.5 M466.0 106.9 V109.5 M484.5 106.9 V109.5 " stroke="#d2203a" stroke-width="1.25" fill="none"/>
<path d="M321.7 42.0 V44.6 M322.7 45.1 V47.7 M325.6 52.1 V54.7 M327.5 58.7 V61.3 M329.4 61.0 V63.6 M333.3 62.7 V65.3 M336.2 63.9 V66.5 M340.0 65.6 V68.2 M343.8 67.4 V70.0 M346.0 67.7 V70.3 M348.7 68.1 V70.7 M350.6 68.4 V71.0 M355.0 69.0 V71.6 M359.2 69.0 V71.6 M361.2 69.0 V71.6 M366.0 70.3 V72.9 M369.8 71.2 V73.8 M372.7 71.3 V73.9 M376.5 71.4 V74.0 M384.0 78.4 V81.0 M388.0 78.4 V81.0 M392.0 78.4 V81.0 M397.0 78.4 V81.0 M403.0 82.5 V85.1 M407.0 82.5 V85.1 M411.0 82.5 V85.1 M415.0 85.7 V88.3 M422.0 85.7 V88.3 M428.0 85.7 V88.3 M434.0 89.8 V92.4 M439.0 93.6 V96.2 M444.0 93.6 V96.2 M448.0 93.6 V96.2 M452.0 93.6 V96.2 M456.0 93.6 V96.2 M468.0 111.3 V113.9 M474.0 111.3 V113.9 M480.0 111.3 V113.9 M487.5 111.3 V113.9 " stroke="#1f2150" stroke-width="1.25" fill="none"/>
<path d="M52.0 221.5 V224.1 M54.0 221.5 V224.1 M56.0 221.5 V224.1 M59.0 239.6 V242.2 M61.0 240.6 V243.2 M63.0 241.5 V244.2 M65.0 242.5 V245.2 M67.0 243.5 V246.2 M70.4 250.0 V252.6 M74.0 250.0 V252.6 M76.0 250.0 V252.6 M80.5 253.5 V256.1 M83.0 258.2 V260.8 M85.5 261.3 V263.9 M89.0 262.5 V265.1 M92.0 262.5 V265.1 M95.0 263.6 V266.2 M98.0 265.5 V268.1 M101.0 267.3 V269.9 M104.0 269.8 V272.4 M106.0 272.1 V274.7 M110.0 273.9 V276.5 M113.0 273.9 V276.5 M119.0 279.7 V282.3 M126.0 279.7 V282.3 M130.8 279.7 V282.3 M135.6 279.7 V282.3 M144.2 279.7 V282.3 M150.0 286.6 V289.2 M157.0 286.6 V289.2 M165.0 286.6 V289.2 M172.0 286.6 V289.2 M180.0 286.6 V289.2 M192.0 300.2 V302.8 M200.0 300.2 V302.8 M205.0 300.2 V302.8 M211.0 300.2 V302.8 M218.5 300.2 V302.8 " stroke="#d2203a" stroke-width="1.25" fill="none"/>
<path d="M58.5 258.3 V260.9 M60.0 259.6 V262.2 M62.0 261.3 V263.9 M64.0 261.8 V264.4 M66.0 261.8 V264.4 M69.0 261.8 V264.4 M74.0 265.9 V268.5 M78.8 265.9 V268.5 M83.7 265.9 V268.5 M86.5 265.9 V268.5 M90.0 269.9 V272.5 M93.0 271.2 V273.8 M96.0 272.5 V275.1 M99.0 274.0 V276.6 M102.0 276.6 V279.2 M105.0 279.9 V282.5 M108.0 284.0 V286.6 M111.0 285.3 V287.9 M114.0 286.6 V289.2 M117.0 288.1 V290.7 M119.2 289.7 V292.3 M126.9 290.5 V293.1 M132.7 290.5 V293.1 M138.5 290.5 V293.1 M142.3 290.5 V293.1 M150.0 290.5 V293.1 M155.0 290.5 V293.1 M160.0 294.7 V297.3 M165.0 294.7 V297.3 M173.0 299.6 V302.2 M177.0 299.6 V302.2 M182.0 299.6 V302.2 M186.0 299.6 V302.2 M192.0 308.1 V310.7 M201.0 308.1 V310.7 M204.0 308.1 V310.7 M213.0 308.1 V310.7 M221.0 308.1 V310.7 M223.0 308.1 V310.7 " stroke="#1f2150" stroke-width="1.25" fill="none"/>
<path d="M321.0 227.4 V230.0 M322.7 232.0 V234.6 M325.0 238.8 V241.4 M327.0 243.6 V246.2 M329.0 247.5 V250.1 M331.0 248.8 V251.5 M333.0 249.8 V252.4 M335.0 251.4 V254.0 M337.0 253.9 V256.5 M340.0 255.2 V257.8 M343.0 255.2 V257.8 M345.8 255.5 V258.1 M349.6 256.1 V258.7 M353.5 256.1 V258.7 M358.3 256.1 V258.7 M362.1 256.1 V258.7 M366.0 256.1 V258.7 M369.8 256.1 V258.7 M374.6 258.4 V261.0 M377.0 258.4 V261.0 M386.2 266.4 V269.0 M391.0 266.4 V269.0 M393.8 266.4 V269.0 M396.7 266.4 V269.0 M401.0 266.4 V269.0 M405.4 270.7 V273.3 M410.0 270.7 V273.3 M418.0 276.9 V279.5 M424.0 276.9 V279.5 M428.0 276.9 V279.5 M433.0 276.9 V279.5 M437.0 276.9 V279.5 M441.0 276.9 V279.5 M445.0 276.9 V279.5 M452.0 276.9 V279.5 M460.0 276.9 V279.5 M470.0 298.8 V301.4 M476.0 298.8 V301.4 M483.5 298.8 V301.4 " stroke="#d2203a" stroke-width="1.25" fill="none"/>
<path d="M321.5 238.1 V240.7 M322.5 243.7 V246.3 M324.0 252.3 V254.9 M325.5 259.5 V262.1 M327.0 264.4 V267.0 M328.5 269.1 V271.7 M330.0 273.5 V276.1 M332.0 275.9 V278.5 M334.0 276.5 V279.1 M337.0 277.9 V280.5 M340.0 279.7 V282.3 M341.5 280.1 V282.7 M344.0 280.7 V283.3 M347.0 283.9 V286.5 M349.5 283.9 V286.5 M353.5 286.6 V289.2 M356.0 286.6 V289.2 M358.3 286.7 V289.3 M363.0 287.4 V290.0 M366.9 288.6 V291.2 M371.0 289.3 V291.9 M375.0 289.8 V292.4 M378.0 290.7 V293.3 M383.0 291.5 V294.1 M390.0 291.5 V294.1 M393.0 291.5 V294.1 M400.0 293.1 V295.7 M407.0 293.1 V295.7 M412.0 293.1 V295.7 M419.0 293.1 V295.7 M425.0 293.1 V295.7 M430.0 293.1 V295.7 M434.0 296.8 V299.4 M440.0 300.6 V303.2 M447.0 300.6 V303.2 M453.0 300.6 V303.2 M467.0 308.0 V310.6 M473.0 308.0 V310.6 M480.0 308.0 V310.6 M488.0 308.0 V310.6 " stroke="#1f2150" stroke-width="1.25" fill="none"/>
<path d="M54.0 411.9 V414.5 M55.5 411.9 V414.5 M57.0 411.9 V414.5 M58.5 411.9 V414.5 M60.5 411.9 V414.5 M62.0 465.3 V467.9 M64.0 466.2 V468.8 M67.0 466.4 V469.0 M70.0 466.6 V469.2 M72.0 467.2 V469.8 M76.0 469.5 V472.1 M78.0 470.5 V473.1 M82.0 470.9 V473.5 M86.0 476.1 V478.7 M88.0 478.7 V481.3 M90.0 479.0 V481.6 M95.0 479.0 V481.6 M100.0 479.0 V481.6 M108.0 482.3 V484.9 M113.0 482.3 V484.9 M118.0 482.3 V484.9 M130.0 486.3 V488.9 M140.0 486.3 V488.9 M147.0 486.3 V488.9 M157.0 486.3 V488.9 M165.0 486.3 V488.9 M172.0 486.3 V488.9 M178.0 486.3 V488.9 M185.0 486.3 V488.9 M192.0 486.3 V488.9 M200.0 486.3 V488.9 M209.0 486.3 V488.9 M218.0 486.3 V488.9 " stroke="#d2203a" stroke-width="1.25" fill="none"/>
<path d="M60.8 429.3 V431.9 M62.0 431.9 V434.6 M64.0 433.7 V436.3 M66.0 434.7 V437.3 M68.0 435.7 V438.3 M70.0 436.7 V439.3 M72.0 438.3 V440.9 M74.0 440.6 V443.2 M76.0 442.5 V445.1 M78.5 442.7 V445.3 M81.0 442.9 V445.5 M83.0 443.3 V445.9 M85.5 445.2 V447.8 M88.0 447.0 V449.6 M90.5 448.4 V451.0 M93.0 449.8 V452.4 M95.5 450.8 V453.4 M98.0 451.4 V454.1 M101.0 452.8 V455.4 M103.5 455.0 V457.6 M106.0 456.0 V458.6 M108.5 457.5 V460.1 M111.0 460.6 V463.2 M113.5 464.7 V467.3 M116.0 468.4 V471.1 M118.5 469.3 V471.9 M121.0 469.8 V472.4 M124.0 471.3 V473.9 M126.0 473.0 V475.6 M127.9 475.6 V478.2 M134.6 475.6 V478.2 M138.5 475.6 V478.2 M142.3 475.6 V478.2 M146.2 475.6 V478.2 M150.0 475.6 V478.2 M154.0 475.6 V478.2 M160.0 479.6 V482.2 M166.0 479.6 V482.2 M175.0 483.9 V486.5 M180.0 483.9 V486.5 M190.0 487.9 V490.5 M196.0 487.9 V490.5 M206.0 500.7 V503.3 M210.0 500.7 V503.3 M218.0 500.7 V503.3 M224.0 500.7 V503.3 M238.0 500.7 V503.3 M241.5 500.7 V503.3 " stroke="#1f2150" stroke-width="1.25" fill="none"/>
<path d="M320.5 415.8 V418.4 M322.0 435.4 V438.0 M323.0 448.3 V450.9 M324.0 458.7 V461.3 M326.0 467.9 V470.5 M328.0 477.0 V479.6 M330.0 479.7 V482.3 M332.0 480.7 V483.3 M335.0 481.5 V484.1 M339.0 483.7 V486.3 M347.7 487.2 V489.8 M350.0 487.2 V489.8 M353.0 487.2 V489.8 M356.0 487.3 V489.9 M358.0 487.3 V489.9 M360.0 487.3 V489.9 M362.0 487.3 V489.9 M365.0 487.3 V489.9 M369.0 487.3 V489.9 M373.0 487.4 V490.0 M385.0 492.9 V495.5 M392.0 492.9 V495.5 M398.0 492.9 V495.5 M404.0 492.9 V495.5 M409.0 492.9 V495.5 M420.0 498.3 V500.9 M430.0 498.3 V500.9 M437.0 498.3 V500.9 M444.0 498.3 V500.9 M452.0 498.3 V500.9 M460.0 498.3 V500.9 M466.0 498.3 V500.9 " stroke="#d2203a" stroke-width="1.25" fill="none"/>
<path d="M321.0 415.9 V418.5 M323.0 419.9 V422.5 M325.0 423.6 V426.2 M327.0 428.7 V431.3 M329.0 433.9 V436.5 M331.0 436.5 V439.1 M333.0 437.2 V439.8 M336.0 439.1 V441.7 M338.0 441.1 V443.7 M340.0 441.7 V444.3 M343.0 442.5 V445.1 M345.0 443.3 V445.9 M347.0 444.4 V447.0 M349.0 445.4 V448.0 M352.0 446.8 V449.4 M355.0 446.8 V449.4 M358.0 446.8 V449.4 M361.0 446.8 V449.4 M364.0 446.9 V449.5 M367.0 447.8 V450.4 M370.0 448.8 V451.4 M373.0 450.2 V452.8 M376.0 450.2 V452.8 M380.0 452.1 V454.8 M384.0 454.1 V456.7 M388.0 454.1 V456.7 M392.0 454.1 V456.7 M396.0 454.1 V456.7 M400.0 457.2 V459.8 M404.0 459.5 V462.1 M408.0 459.5 V462.1 M412.0 459.5 V462.1 M416.0 459.5 V462.1 M420.0 459.5 V462.1 M424.0 459.5 V462.1 M428.0 459.5 V462.1 M434.0 463.5 V466.1 M438.0 467.9 V470.5 M442.0 467.9 V470.5 M447.0 467.9 V470.5 M452.0 467.9 V470.5 M468.0 485.5 V488.1 M474.0 485.5 V488.1 M481.0 485.5 V488.1 M488.0 485.5 V488.1 " stroke="#1f2150" stroke-width="1.25" fill="none"/>
<path d="M85.3 149.0 L91.3 146.4 L89.9 149.0 L91.3 151.6 Z" fill="#000" stroke="#000" stroke-width="0.5" stroke-linejoin="round"/>
<path d="M89.8 149.0 H93.9" stroke="#555" stroke-width="1.0"/>
<text x="96.8" y="152.1" font-size="9.8" font-weight="normal" text-anchor="start" fill="#111" stroke="#111" stroke-width="0.2" textLength="17.8" lengthAdjust="spacingAndGlyphs">13.0</text>
<path d="M121.7 149.2 L127.7 146.6 L126.3 149.2 L127.7 151.8 Z" fill="#000" stroke="#000" stroke-width="0.5" stroke-linejoin="round"/>
<path d="M126.2 149.2 H130.3" stroke="#555" stroke-width="1.0"/>
<text x="132.5" y="152.3" font-size="9.8" font-weight="normal" text-anchor="start" fill="#111" stroke="#111" stroke-width="0.2" textLength="17.8" lengthAdjust="spacingAndGlyphs">27.8</text>
<path d="M333.8 149.1 L339.8 146.5 L338.4 149.1 L339.8 151.7 Z" fill="#000" stroke="#000" stroke-width="0.5" stroke-linejoin="round"/>
<path d="M338.3 149.1 H342.4" stroke="#555" stroke-width="1.0"/>
<text x="344.8" y="152.2" font-size="9.8" font-weight="normal" text-anchor="start" fill="#111" stroke="#111" stroke-width="0.2" textLength="13.2" lengthAdjust="spacingAndGlyphs">6.0</text>
<path d="M439.6 148.9 L445.6 146.3 L444.2 148.9 L445.6 151.5 Z" fill="#000" stroke="#000" stroke-width="0.5" stroke-linejoin="round"/>
<path d="M444.1 148.9 H448.2" stroke="#555" stroke-width="1.0"/>
<text x="450.3" y="152.0" font-size="9.8" font-weight="normal" text-anchor="start" fill="#111" stroke="#111" stroke-width="0.2" textLength="17.8" lengthAdjust="spacingAndGlyphs">49.5</text>
<path d="M110.4 339.3 L116.4 336.7 L115.0 339.3 L116.4 341.9 Z" fill="#000" stroke="#000" stroke-width="0.5" stroke-linejoin="round"/>
<path d="M114.9 339.3 H119.0" stroke="#555" stroke-width="1.0"/>
<text x="121.4" y="342.4" font-size="9.8" font-weight="normal" text-anchor="start" fill="#111" stroke="#111" stroke-width="0.2" textLength="17.8" lengthAdjust="spacingAndGlyphs">23.3</text>
<path d="M150.0 339.4 L156.0 336.8 L154.6 339.4 L156.0 342.0 Z" fill="#000" stroke="#000" stroke-width="0.5" stroke-linejoin="round"/>
<path d="M154.5 339.4 H158.6" stroke="#555" stroke-width="1.0"/>
<text x="161.1" y="342.5" font-size="9.8" font-weight="normal" text-anchor="start" fill="#111" stroke="#111" stroke-width="0.2" textLength="17.8" lengthAdjust="spacingAndGlyphs">39.0</text>
<path d="M349.1 339.2 L355.1 336.6 L353.7 339.2 L355.1 341.8 Z" fill="#000" stroke="#000" stroke-width="0.5" stroke-linejoin="round"/>
<path d="M353.6 339.2 H357.7" stroke="#555" stroke-width="1.0"/>
<text x="360.8" y="342.3" font-size="9.8" font-weight="normal" text-anchor="start" fill="#111" stroke="#111" stroke-width="0.2" textLength="17.8" lengthAdjust="spacingAndGlyphs">11.9</text>
<path d="M469.9 339.2 L475.9 336.6 L474.5 339.2 L475.9 341.8 Z" fill="#000" stroke="#000" stroke-width="0.5" stroke-linejoin="round"/>
<path d="M474.4 339.2 H478.5" stroke="#555" stroke-width="1.0"/>
<text x="481.0" y="342.3" font-size="9.8" font-weight="normal" text-anchor="start" fill="#111" stroke="#111" stroke-width="0.2" textLength="17.8" lengthAdjust="spacingAndGlyphs">61.2</text>
<path d="M90.0 531.9 L96.0 529.3 L94.6 531.9 L96.0 534.5 Z" fill="#000" stroke="#000" stroke-width="0.5" stroke-linejoin="round"/>
<path d="M94.5 531.9 H98.6" stroke="#555" stroke-width="1.0"/>
<text x="101.7" y="535.0" font-size="9.8" font-weight="normal" text-anchor="start" fill="#111" stroke="#111" stroke-width="0.2" textLength="17.8" lengthAdjust="spacingAndGlyphs">12.9</text>
<path d="M153.0 531.9 L159.0 529.3 L157.6 531.9 L159.0 534.5 Z" fill="#000" stroke="#000" stroke-width="0.5" stroke-linejoin="round"/>
<path d="M157.5 531.9 H161.6" stroke="#555" stroke-width="1.0"/>
<text x="163.3" y="535.0" font-size="9.8" font-weight="normal" text-anchor="start" fill="#111" stroke="#111" stroke-width="0.2" textLength="17.8" lengthAdjust="spacingAndGlyphs">39.0</text>
<path d="M331.5 531.8 L337.5 529.2 L336.1 531.8 L337.5 534.4 Z" fill="#000" stroke="#000" stroke-width="0.5" stroke-linejoin="round"/>
<path d="M336.0 531.8 H340.1" stroke="#555" stroke-width="1.0"/>
<text x="342.2" y="534.9" font-size="9.8" font-weight="normal" text-anchor="start" fill="#111" stroke="#111" stroke-width="0.2" textLength="13.2" lengthAdjust="spacingAndGlyphs">4.9</text>
<path d="M463.8 532.1 L469.8 529.5 L468.4 532.1 L469.8 534.7 Z" fill="#000" stroke="#000" stroke-width="0.5" stroke-linejoin="round"/>
<path d="M468.3 532.1 H472.4" stroke="#555" stroke-width="1.0"/>
<text x="475.0" y="535.2" font-size="9.8" font-weight="normal" text-anchor="start" fill="#111" stroke="#111" stroke-width="0.2" textLength="17.8" lengthAdjust="spacingAndGlyphs">59.2</text>
<text x="134.3" y="41.5" font-size="7.6" font-weight="normal" text-anchor="start" fill="#161616" stroke="#161616" stroke-width="0.2" textLength="105.3" lengthAdjust="spacingAndGlyphs">Hazard ratio for progression of</text>
<text x="161.5" y="50.8" font-size="7.6" font-weight="normal" text-anchor="start" fill="#161616" stroke="#161616" stroke-width="0.2" textLength="80.4" lengthAdjust="spacingAndGlyphs">high MΦ, 1.48 (95% CI,</text>
<text x="169.6" y="60.2" font-size="7.6" font-weight="normal" text-anchor="start" fill="#161616" stroke="#161616" stroke-width="0.2" textLength="70.6" lengthAdjust="spacingAndGlyphs">0.97-2.26); P=0.068</text>
<text x="181.9" y="73.0" font-size="7.6" font-weight="normal" text-anchor="start" fill="#161616" stroke="#161616" stroke-width="0.2" textLength="55.6" lengthAdjust="spacingAndGlyphs">Logrank P=0.05</text>
<text x="179.7" y="82.1" font-size="7.6" font-weight="normal" text-anchor="start" fill="#161616" stroke="#161616" stroke-width="0.2" textLength="58.5" lengthAdjust="spacingAndGlyphs">Breslow P&lt;0.001</text>
<text x="386.1" y="41.5" font-size="7.6" font-weight="normal" text-anchor="start" fill="#161616" stroke="#161616" stroke-width="0.2" textLength="117.3" lengthAdjust="spacingAndGlyphs">Hazard ratio for death of high MΦ,</text>
<text x="386.4" y="51.0" font-size="7.6" font-weight="normal" text-anchor="start" fill="#161616" stroke="#161616" stroke-width="0.2" textLength="117.8" lengthAdjust="spacingAndGlyphs">1.48 (95% CI, 1.44-3.07); P&lt;0.001</text>
<text x="441.1" y="69.1" font-size="7.6" font-weight="normal" text-anchor="start" fill="#161616" stroke="#161616" stroke-width="0.2" textLength="59.8" lengthAdjust="spacingAndGlyphs">Logrank P&lt;0.001</text>
<text x="441.1" y="78.1" font-size="7.6" font-weight="normal" text-anchor="start" fill="#161616" stroke="#161616" stroke-width="0.2" textLength="59.8" lengthAdjust="spacingAndGlyphs">Breslow P&lt;0.001</text>
<text x="134.2" y="231.8" font-size="7.6" font-weight="normal" text-anchor="start" fill="#161616" stroke="#161616" stroke-width="0.2" textLength="105.5" lengthAdjust="spacingAndGlyphs">Hazard ratio for progression of</text>
<text x="161.5" y="240.7" font-size="7.6" font-weight="normal" text-anchor="start" fill="#161616" stroke="#161616" stroke-width="0.2" textLength="81.1" lengthAdjust="spacingAndGlyphs">high MΦ, 0.74 (95% CI,</text>
<text x="172.6" y="250.3" font-size="7.6" font-weight="normal" text-anchor="start" fill="#161616" stroke="#161616" stroke-width="0.2" textLength="65.9" lengthAdjust="spacingAndGlyphs">0.49-1.12); P=0.16</text>
<text x="182.0" y="262.8" font-size="7.6" font-weight="normal" text-anchor="start" fill="#161616" stroke="#161616" stroke-width="0.2" textLength="55.6" lengthAdjust="spacingAndGlyphs">Logrank P=0.13</text>
<text x="181.9" y="271.0" font-size="7.6" font-weight="normal" text-anchor="start" fill="#161616" stroke="#161616" stroke-width="0.2" textLength="54.9" lengthAdjust="spacingAndGlyphs">Breslow P=0.03</text>
<text x="386.6" y="232.4" font-size="7.6" font-weight="normal" text-anchor="start" fill="#161616" stroke="#161616" stroke-width="0.2" textLength="116.8" lengthAdjust="spacingAndGlyphs">Hazard ratio for death of high MΦ,</text>
<text x="385.9" y="240.7" font-size="7.6" font-weight="normal" text-anchor="start" fill="#161616" stroke="#161616" stroke-width="0.2" textLength="118.3" lengthAdjust="spacingAndGlyphs">0.50 (95% CI, 0.34-0.75); P=0.001</text>
<text x="440.9" y="259.4" font-size="7.6" font-weight="normal" text-anchor="start" fill="#161616" stroke="#161616" stroke-width="0.2" textLength="59.5" lengthAdjust="spacingAndGlyphs">Logrank P=0.001</text>
<text x="440.9" y="267.9" font-size="7.6" font-weight="normal" text-anchor="start" fill="#161616" stroke="#161616" stroke-width="0.2" textLength="60.3" lengthAdjust="spacingAndGlyphs">Breslow P&lt;0.001</text>
<text x="134.3" y="421.7" font-size="7.6" font-weight="normal" text-anchor="start" fill="#161616" stroke="#161616" stroke-width="0.2" textLength="104.7" lengthAdjust="spacingAndGlyphs">Hazard ratio for progression of</text>
<text x="161.5" y="430.8" font-size="7.6" font-weight="normal" text-anchor="start" fill="#161616" stroke="#161616" stroke-width="0.2" textLength="81.4" lengthAdjust="spacingAndGlyphs">high MΦ, 1.86 (95% CI,</text>
<text x="170.3" y="440.0" font-size="7.6" font-weight="normal" text-anchor="start" fill="#161616" stroke="#161616" stroke-width="0.2" textLength="69.5" lengthAdjust="spacingAndGlyphs">1.23-2.81); P=0.003</text>
<text x="181.8" y="452.4" font-size="7.6" font-weight="normal" text-anchor="start" fill="#161616" stroke="#161616" stroke-width="0.2" textLength="59.2" lengthAdjust="spacingAndGlyphs">Logrank P=0.001</text>
<text x="181.8" y="461.1" font-size="7.6" font-weight="normal" text-anchor="start" fill="#161616" stroke="#161616" stroke-width="0.2" textLength="59.1" lengthAdjust="spacingAndGlyphs">Breslow P&lt;0.001</text>
<text x="386.6" y="422.4" font-size="7.6" font-weight="normal" text-anchor="start" fill="#161616" stroke="#161616" stroke-width="0.2" textLength="116.8" lengthAdjust="spacingAndGlyphs">Hazard ratio for death of high MΦ,</text>
<text x="385.9" y="430.4" font-size="7.6" font-weight="normal" text-anchor="start" fill="#161616" stroke="#161616" stroke-width="0.2" textLength="118.3" lengthAdjust="spacingAndGlyphs">2.93 (95% CI, 2.00-4.29); P&lt;0.001</text>
<text x="440.9" y="448.9" font-size="7.6" font-weight="normal" text-anchor="start" fill="#161616" stroke="#161616" stroke-width="0.2" textLength="60.3" lengthAdjust="spacingAndGlyphs">Logrank P&lt;0.001</text>
<text x="440.9" y="457.9" font-size="7.6" font-weight="normal" text-anchor="start" fill="#161616" stroke="#161616" stroke-width="0.2" textLength="60.3" lengthAdjust="spacingAndGlyphs">Breslow P&lt;0.001</text>
</svg></body></html>
